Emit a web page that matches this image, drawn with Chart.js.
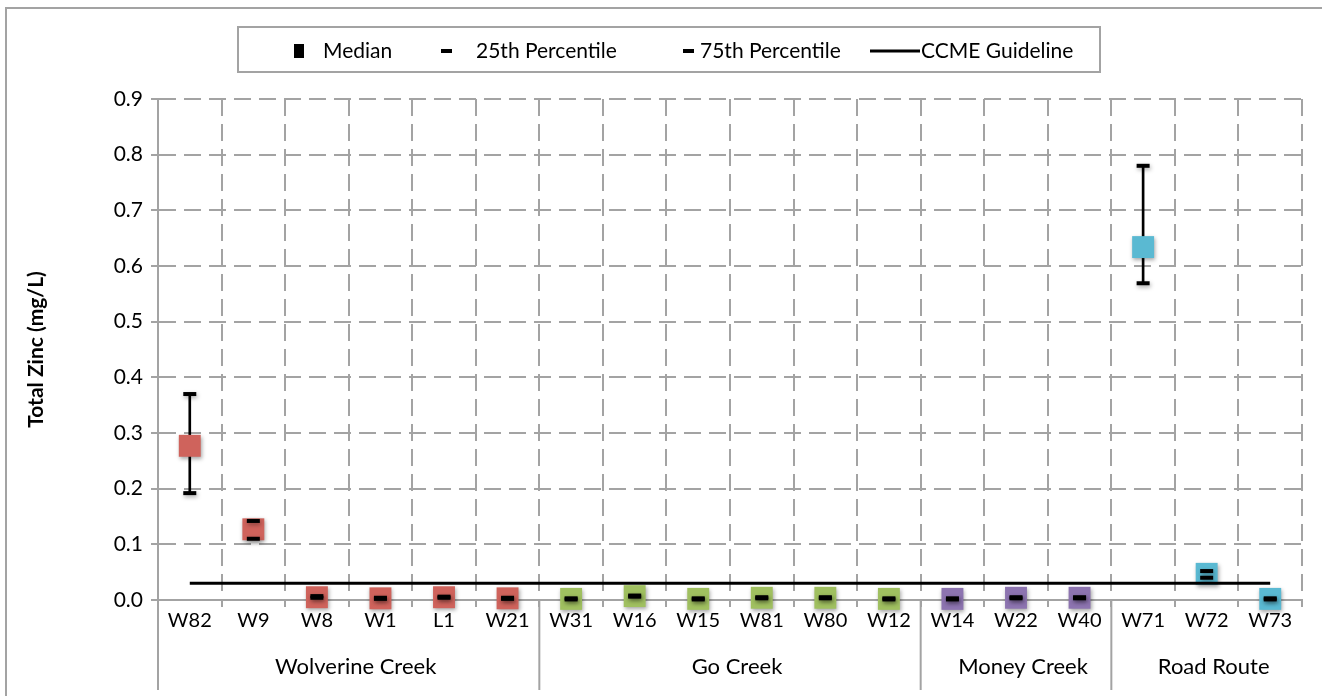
<!DOCTYPE html>
<html>
<head>
<meta charset="utf-8">
<title>Total Zinc by Site</title>
<script src="https://cdn.jsdelivr.net/npm/chart.js@4.4.0/dist/chart.umd.min.js"></script>
<style>
    html, body { margin: 0; padding: 0; background: #fff; }
</style>
</head>
<body>
<canvas id="zincChart" width="1322" height="696"></canvas>
<script>
// sampling sites, grouped by watercourse
const sites = ["W82", "W9", "W8", "W1", "L1", "W21", "W31", "W16", "W15", "W81", "W80", "W12", "W14", "W22", "W40", "W71", "W72", "W73"];
const groupNames = ["Wolverine Creek", "Go Creek", "Money Creek", "Road Route"];
const groupSizes = [6, 6, 3, 3];
const groupColors = ["#cf635c", "#a0c060", "#8d74b0", "#5ab9d2"];

// total zinc (mg/L)
const medianValues = [0.277, 0.127, 0.005, 0.003, 0.005, 0.003, 0.002, 0.007, 0.002, 0.004, 0.004, 0.002, 0.002, 0.004, 0.004, 0.634, 0.047, 0.002];
const p25Values = [0.192, 0.110, 0.004, 0.002, 0.004, 0.002, 0.001, 0.006, 0.001, 0.003, 0.003, 0.001, 0.001, 0.003, 0.003, 0.569, 0.040, 0.001];
const p75Values = [0.370, 0.142, 0.007, 0.004, 0.006, 0.004, 0.003, 0.008, 0.003, 0.005, 0.005, 0.003, 0.003, 0.005, 0.005, 0.780, 0.052, 0.003];
const ccmeGuideline = 0.03;

const yTicks = [0, 0.1, 0.2, 0.3, 0.4, 0.5, 0.6, 0.7, 0.8, 0.9];

const FONT = "Lato, 'DejaVu Sans', sans-serif";
const GRID_GREY = "#a3a3a3";

// colour each median marker by its group
const pointColors = [];
groupSizes.forEach((n, g) => {
    for (let i = 0; i < n; i++) pointColors.push(groupColors[g]);
});

// soft drop shadow under the markers
const shadowPlugin = {
    id: "markerShadow",
    beforeDatasetDraw(chart, args) {
        if (!chart.data.datasets[args.index].shadow) return;
        const ctx = chart.ctx;
        ctx.save();
        ctx.shadowColor = "rgba(0,0,0,0.35)";
        ctx.shadowBlur = 4;
        ctx.shadowOffsetX = 1;
        ctx.shadowOffsetY = 2;
    },
    afterDatasetDraw(chart, args) {
        if (!chart.data.datasets[args.index].shadow) return;
        chart.ctx.restore();
    }
};

// outer frame, boxed legend, group labels and separators under the axis
const decorPlugin = {
    id: "decor",
    beforeDraw(chart) {
        const ctx = chart.ctx;
        ctx.save();
        ctx.fillStyle = "#fff";
        ctx.fillRect(0, 0, chart.width, chart.height);
        ctx.strokeStyle = GRID_GREY;
        ctx.lineWidth = 2;
        ctx.strokeRect(6, 8, chart.width + 10, chart.height + 10);
        ctx.restore();
    },
    afterDraw(chart) {
        const ctx = chart.ctx;
        const xs = chart.scales.x;
        const area = chart.chartArea;
        const half = (xs.getPixelForValue(1) - xs.getPixelForValue(0)) / 2;

        ctx.save();
        // group separators and names
        ctx.strokeStyle = GRID_GREY;
        ctx.lineWidth = 2;
        ctx.fillStyle = "#000";
        ctx.font = "22px " + FONT;
        ctx.textAlign = "center";
        ctx.textBaseline = "middle";
        let start = 0;
        groupSizes.forEach((n, g) => {
            const left = xs.getPixelForValue(start) - half;
            const right = xs.getPixelForValue(start + n - 1) + half;
            ctx.beginPath();
            ctx.moveTo(left, area.bottom);
            ctx.lineTo(left, 690);
            ctx.stroke();
            ctx.fillText(groupNames[g], (left + right) / 2 + 7, 667);
            start += n;
        });

        // legend
        ctx.strokeRect(238, 27, 862, 45);
        const ly = 51;
        ctx.font = "21px " + FONT;
        ctx.fillStyle = "#000";
        ctx.fillRect(294, ly - 7, 10, 14);
        ctx.fillRect(441, ly - 2, 11, 4);
        ctx.fillRect(683, ly - 2, 11, 4);
        ctx.fillRect(870, ly - 1.5, 50, 3);
        ctx.textAlign = "left";
        ctx.fillText("Median", 323, ly);
        ctx.fillText("25th Percentile", 476, ly);
        ctx.fillText("75th Percentile", 700, ly);
        ctx.fillText("CCME Guideline", 921, ly);
        ctx.restore();
    }
};

const ctx = document.getElementById("zincChart").getContext("2d");

new Chart(ctx, {
    data: {
        labels: sites,
        datasets: [
            {
                type: "line",
                label: "CCME Guideline",
                data: sites.map(() => ccmeGuideline),
                borderColor: "#000",
                borderWidth: 3,
                pointRadius: 0,
                clip: false,
                order: 0
            },
            {
                type: "line",
                label: "25th Percentile",
                data: p25Values,
                showLine: false,
                pointStyle: "line",
                pointRadius: 6.5,
                pointBorderWidth: 4,
                pointBorderColor: "#000",
                clip: false,
                shadow: true,
                order: 1
            },
            {
                type: "line",
                label: "75th Percentile",
                data: p75Values,
                showLine: false,
                pointStyle: "line",
                pointRadius: 6.5,
                pointBorderWidth: 4,
                pointBorderColor: "#000",
                clip: false,
                shadow: true,
                order: 1
            },
            {
                type: "line",
                label: "Median",
                data: medianValues,
                showLine: false,
                pointStyle: "rect",
                pointRadius: 15.5,
                pointBorderWidth: 0,
                pointBackgroundColor: pointColors,
                clip: false,
                shadow: true,
                order: 2
            },
            {
                type: "bar",
                label: "Range",
                data: sites.map((s, i) => [p25Values[i], p75Values[i]]),
                backgroundColor: "#000",
                barThickness: 2,
                borderWidth: 0,
                order: 3
            }
        ]
    },
    options: {
        responsive: false,
        devicePixelRatio: 1,
        animation: false,
        events: [],
        layout: {
            padding: { top: 99, right: 20, bottom: 0, left: 0 }
        },
        plugins: {
            legend: { display: false },
            tooltip: { enabled: false }
        },
        scales: {
            x: {
                type: "category",
                offset: true,
                grid: {
                    offset: true,
                    color: GRID_GREY,
                    lineWidth: 2,
                    tickLength: 7,
                    tickColor: GRID_GREY,
                    tickWidth: 2
                },
                border: {
                    color: GRID_GREY,
                    width: 2,
                    dash: [17, 8]
                },
                ticks: {
                    color: "#000",
                    font: { family: FONT, size: 20 },
                    padding: 2,
                    maxRotation: 0,
                    autoSkip: false
                },
                afterFit(scale) {
                    scale.height = 96;
                }
            },
            y: {
                min: 0,
                max: 0.9,
                afterBuildTicks(scale) {
                    scale.ticks = yTicks.map(v => ({ value: v }));
                },
                grid: {
                    color: GRID_GREY,
                    lineWidth: 2,
                    tickLength: 7,
                    tickColor: GRID_GREY,
                    tickWidth: 2
                },
                border: {
                    color: GRID_GREY,
                    width: 2,
                    dash: [17, 8]
                },
                ticks: {
                    color: "#000",
                    font: { family: FONT, size: 21 },
                    padding: 8,
                    callback: v => Number(v).toFixed(1)
                },
                title: {
                    display: true,
                    text: "Total Zinc (mg/L)",
                    color: "#000",
                    font: { family: FONT, size: 21, weight: "bold" },
                    padding: { top: 24, bottom: 0 }
                },
                afterFit(scale) {
                    scale.width = 158;
                }
            }
        }
    },
    plugins: [shadowPlugin, decorPlugin]
});
</script>
</body>
</html>
